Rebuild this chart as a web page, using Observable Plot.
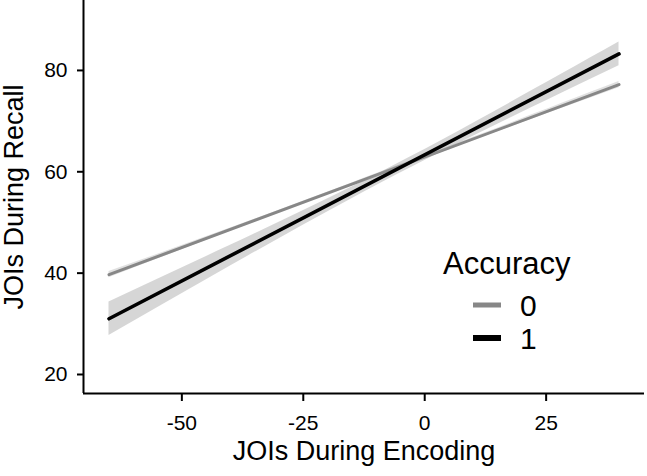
<!DOCTYPE html>
<html>
<head>
<meta charset="utf-8">
<script src="https://cdn.jsdelivr.net/npm/d3@7"></script>
<script src="https://cdn.jsdelivr.net/npm/@observablehq/plot@0.6"></script>
<style>
  html, body { margin: 0; padding: 0; background: white; }
  #wrap { position: relative; width: 647px; height: 476px; }
  #legend { position: absolute; left: 0; top: 0; pointer-events: none; }
</style>
</head>
<body>
<div id="wrap"></div>
<script>
// ---- data ----
const accuracyLevels = ["0", "1"];
const lineColors = ["#878787", "#000000"];
const xEnds = [-65, 40];
const fit0 = [39.7, 77.2];
const fit1 = [31.0, 83.25];
const ribbonX = [-65, -40, -15, 10, 40];
const ribbon0Lower = [39.1, 48.3, 57.4, 66.2, 76.6];
const ribbon0Upper = [40.3, 48.9, 57.8, 66.8, 77.8];
const ribbon1Lower = [27.7, 41.4, 54.7, 67.0, 80.9];
const ribbon1Upper = [34.3, 45.5, 57.0, 69.6, 85.6];
const xTicks = [-50, -25, 0, 25];
const yTicks = [20, 40, 60, 80];
const xTitle = "JOIs During Encoding";
const yTitle = "JOIs During Recall";
const legendTitle = "Accuracy";
const xDomain = [-70.25, 45.25];
const yDomain = [16.25, 93.8];

// ---- tables built from the arrays ----
const line0 = xEnds.map((x, i) => ({x, y: fit0[i]}));
const line1 = xEnds.map((x, i) => ({x, y: fit1[i]}));
const band0 = ribbonX.map((x, i) => ({x, lo: ribbon0Lower[i], hi: ribbon0Upper[i]}));
const band1 = ribbonX.map((x, i) => ({x, lo: ribbon1Lower[i], hi: ribbon1Upper[i]}));

const font = "'Liberation Sans', Arial, Helvetica, sans-serif";
const fmt = d => String(d);

const chart = Plot.plot({
  width: 647,
  height: 476,
  marginLeft: 83,
  marginRight: 3,
  marginTop: 0,
  marginBottom: 83,
  x: {domain: xDomain},
  y: {domain: yDomain},
  style: {fontFamily: font, background: "white", color: "black"},
  marks: [
    Plot.areaY(band0, {x: "x", y1: "lo", y2: "hi", fill: "#999999", fillOpacity: 0.3, curve: "natural"}),
    Plot.line(line0, {x: "x", y: "y", stroke: lineColors[0], strokeWidth: 3}),
    Plot.areaY(band1, {x: "x", y1: "lo", y2: "hi", fill: "#999999", fillOpacity: 0.4, curve: "natural"}),
    Plot.line(line1, {x: "x", y: "y", stroke: lineColors[1], strokeWidth: 3.6}),
    Plot.axisX({ticks: xTicks, tickFormat: fmt, tickSize: 8, tickPadding: 14, fontSize: 21, strokeWidth: 2, label: null}),
    Plot.axisY({ticks: yTicks, tickFormat: fmt, tickSize: 6, tickPadding: 10, fontSize: 21, strokeWidth: 2, label: null}),
    Plot.ruleX([xDomain[0]], {strokeWidth: 2}),
    Plot.ruleY([yDomain[0]], {strokeWidth: 2}),
    Plot.text([xTitle], {frameAnchor: "bottom", dy: 66, fontSize: 27, textAnchor: "middle"}),
    Plot.text([yTitle], {frameAnchor: "left", dx: -69, rotate: -90, fontSize: 27, textAnchor: "middle"})
  ]
});

const wrap = document.getElementById("wrap");
wrap.appendChild(chart);

// ---- legend overlay ----
const leg = d3.select(wrap).append("svg")
  .attr("id", "legend")
  .attr("width", 647).attr("height", 476)
  .style("font-family", font);

leg.append("text")
  .attr("x", 443).attr("y", 274)
  .attr("font-size", 31)
  .text(legendTitle);

const rows = leg.selectAll("g.row").data(accuracyLevels).join("g")
  .attr("class", "row")
  .attr("transform", (d, i) => `translate(0, ${i * 33})`);

rows.append("line")
  .attr("x1", 473).attr("x2", 501)
  .attr("y1", 305).attr("y2", 305)
  .attr("stroke", (d, i) => lineColors[i])
  .attr("stroke-width", (d, i) => i === 0 ? 5 : 6);

rows.append("text")
  .attr("x", 520).attr("y", 316)
  .attr("font-size", 30)
  .text(d => d);
</script>
</body>
</html>
